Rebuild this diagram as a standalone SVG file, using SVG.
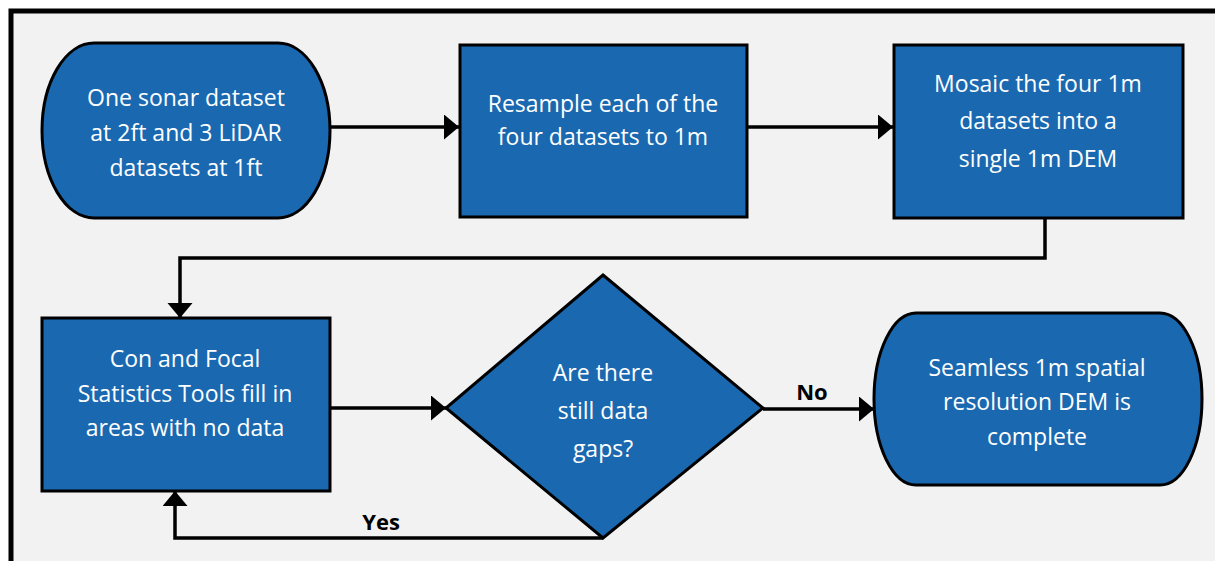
<svg xmlns="http://www.w3.org/2000/svg" width="1215" height="561" viewBox="0 0 1215 561">
  <defs>
    <marker id="arrow" markerUnits="userSpaceOnUse" markerWidth="16" markerHeight="26" refX="15" refY="12.5" orient="auto">
      <path d="M0,0 L15,12.5 L0,25 Z" fill="#000"/>
    </marker>
    <style>
      .node { fill: #1a69b0; stroke: #000; stroke-width: 3; }
      .label { font-family: "Open Sans", "Noto Sans", sans-serif; font-size: 23px; fill: #ffffff; text-anchor: middle; }
      .edge { fill: none; stroke: #000; stroke-width: 3.5; }
      .elabel { font-family: "Open Sans", "Noto Sans", sans-serif; font-size: 22px; font-weight: bold; fill: #000; text-anchor: middle; }
    </style>
  </defs>
  <rect x="0" y="0" width="1215" height="561" fill="#ffffff"/>
  <rect id="frame" x="11" y="11" width="1225" height="570" fill="#f2f2f2" stroke="#000" stroke-width="5"/>

  <g id="connectors">
    <line class="edge" x1="330" y1="127" x2="459" y2="127" marker-end="url(#arrow)"/>
    <line class="edge" x1="747" y1="127" x2="893" y2="127" marker-end="url(#arrow)"/>
    <polyline class="edge" points="1045,218 1045,258 180,258 180,318" marker-end="url(#arrow)"/>
    <line class="edge" x1="330" y1="408" x2="446" y2="408" stroke-width="2.5" marker-end="url(#arrow)"/>
    <line class="edge" x1="763" y1="409" x2="874" y2="409" marker-end="url(#arrow)"/>
    <polyline class="edge" points="603,538 175,538 175,491" marker-end="url(#arrow)"/>
    <text class="elabel" x="812" y="400">No</text>
    <text class="elabel" x="381" y="530">Yes</text>
  </g>

  <g id="n1">
    <rect class="node" x="42" y="43" width="288" height="175" rx="52" ry="87.5"/>
    <text class="label" x="186" y="106">One sonar dataset</text>
    <text class="label" x="186" y="141">at 2ft and 3 LiDAR</text>
    <text class="label" x="186" y="176">datasets at 1ft</text>
  </g>

  <g id="n2">
    <rect class="node" x="460" y="45" width="287" height="172"/>
    <text class="label" x="603" y="112">Resample each of the</text>
    <text class="label" x="603" y="145">four datasets to 1m</text>
  </g>

  <g id="n3">
    <rect class="node" x="894" y="45" width="289" height="173"/>
    <text class="label" x="1038" y="92">Mosaic the four 1m</text>
    <text class="label" x="1038" y="129">datasets into a</text>
    <text class="label" x="1038" y="167">single 1m DEM</text>
  </g>

  <g id="n4">
    <rect class="node" x="42" y="318" width="288" height="173"/>
    <text class="label" x="185" y="367">Con and Focal</text>
    <text class="label" x="185" y="402">Statistics Tools fill in</text>
    <text class="label" x="185" y="436">areas with no data</text>
  </g>

  <g id="n5">
    <polygon class="node" points="603,275 763,408 603,538 446,408"/>
    <text class="label" x="603" y="381">Are there</text>
    <text class="label" x="603" y="419">still data</text>
    <text class="label" x="603" y="457">gaps?</text>
  </g>

  <g id="n6">
    <rect class="node" x="874" y="313" width="328" height="172" rx="42" ry="86"/>
    <text class="label" x="1037" y="376">Seamless 1m spatial</text>
    <text class="label" x="1037" y="410">resolution DEM is</text>
    <text class="label" x="1037" y="445">complete</text>
  </g>
</svg>
